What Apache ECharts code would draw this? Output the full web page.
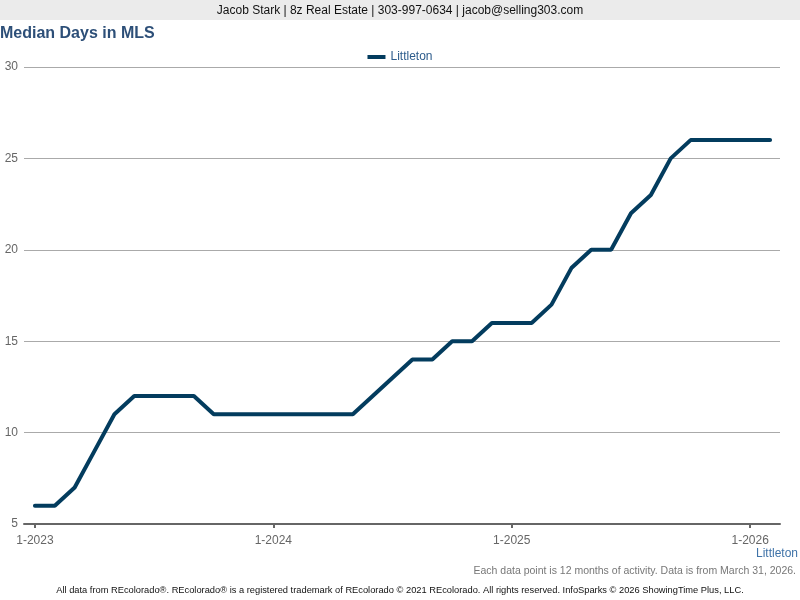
<!DOCTYPE html>
<html><head><meta charset="utf-8">
<script src="https://cdn.jsdelivr.net/npm/echarts@6/dist/echarts.min.js"></script>
<style>html,body{margin:0;padding:0;background:#fff}#c{width:800px;height:600px}</style>
</head><body><div id="c"></div>
<script>
const categories = ["1-2023","2-2023","3-2023","4-2023","5-2023","6-2023","7-2023","8-2023","9-2023","10-2023","11-2023","12-2023",
"1-2024","2-2024","3-2024","4-2024","5-2024","6-2024","7-2024","8-2024","9-2024","10-2024","11-2024","12-2024",
"1-2025","2-2025","3-2025","4-2025","5-2025","6-2025","7-2025","8-2025","9-2025","10-2025","11-2025","12-2025",
"1-2026","2-2026"];
const littleton = [6,6,7,9,11,12,12,12,12,11,11,11,
11,11,11,11,11,12,13,14,14,15,15,16,
16,16,17,19,20,20,22,23,25,26,26,26,
26,26];
const xTickIdx = [0,12,24,36];
const F = 'Liberation Sans, Arial, sans-serif';
const chart = echarts.init(document.getElementById('c'));
chart.setOption({
  animation:false,
  backgroundColor:'#fff',
  graphic:[
    {type:'rect',shape:{x:0,y:0,width:800,height:20},style:{fill:'#ebebeb'}},
    {type:'text',x:400,y:11,style:{text:'Jacob Stark | 8z Real Estate | 303-997-0634 | jacob@selling303.com',fill:'#111',font:'12px '+F,align:'center',verticalAlign:'middle'}},
    {type:'text',x:0,y:34,style:{text:'Median Days in MLS',fill:'#2d4f78',font:'bold 16px '+F,align:'left',verticalAlign:'middle'}},
    {type:'text',x:798,y:554,style:{text:'Littleton',fill:'#3f73a8',font:'12px '+F,align:'right',verticalAlign:'middle'}},
    {type:'text',x:796,y:571,style:{text:'Each data point is 12 months of activity. Data is from March 31, 2026.',fill:'#777',font:'10.5px '+F,align:'right',verticalAlign:'middle'}},
    {type:'text',x:400,y:590,style:{text:'All data from REcolorado®. REcolorado® is a registered trademark of REcolorado © 2021 REcolorado. All rights reserved. InfoSparks © 2026 ShowingTime Plus, LLC.',fill:'#111',font:'9.3px '+F,align:'center',verticalAlign:'middle'}}
  ],
  legend:{top:46,left:'center',itemWidth:18,itemHeight:4,itemGap:6,icon:'rect',
    textStyle:{color:'#2d5c8c',fontSize:12,fontFamily:F},data:['Littleton']},
  grid:{left:24,right:20,top:67,bottom:76,containLabel:false},
  xAxis:{type:'value',min:-0.55,max:37.5,
    axisLine:{lineStyle:{color:'#666',width:2}},
    axisTick:{customValues:xTickIdx,length:4,lineStyle:{color:'#666',width:2}},
    axisLabel:{customValues:xTickIdx,formatter:(v)=>categories[Math.round(v)],color:'#666',fontSize:12,fontFamily:F,margin:11},
    splitLine:{show:false}},
  yAxis:{type:'value',min:5,max:30,interval:5,
    axisLine:{show:false},axisTick:{show:false},
    axisLabel:{color:'#666',fontSize:12,fontFamily:F,margin:6,padding:[5,0,0,0]},
    splitLine:{lineStyle:{color:'#aaa',width:1}}},
  series:[{name:'Littleton',type:'line',data:littleton.map((v,i)=>[i,v]),showSymbol:false,symbol:'none',
    lineStyle:{color:'#033c5e',width:4,cap:'round'},itemStyle:{color:'#033c5e'}}]
});
</script></body></html>
